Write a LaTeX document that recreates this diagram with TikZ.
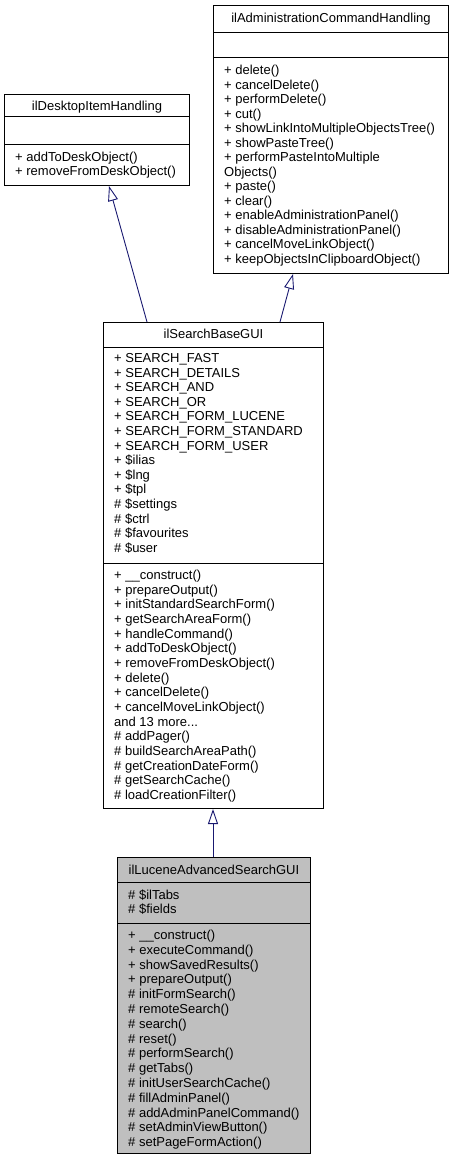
\documentclass[tikz,border=0pt]{standalone}
\usepackage{fontspec}
\setmainfont{Liberation Sans}
\usetikzlibrary{arrows.meta,calc}
\definecolor{edgeblue}{HTML}{191970}
\newcommand{\moremembers}{and 13 more...}

\begin{document}
\begin{tikzpicture}[x=1pt, y=-1pt, font=\fontsize{13}{14.6}\selectfont,
  classbox/.style={draw, line width=1pt, inner sep=0pt, anchor=north west},
  classname/.style={anchor=base, inner sep=0pt},
  member/.style={anchor=base west, inner sep=0pt},
  inherit/.style={draw=edgeblue, line width=0.9pt,
    {Triangle[open,length=15pt,width=10pt]}-}]

\useasboundingbox (0,0) rectangle (453,1160);

% ilAdministrationCommandHandling
\node[classbox, minimum width=235pt, minimum height=268pt] (ach) at (213,5) {};
\node[classname] (ach-name) at ($(ach.north)+(0,17.5)$) {ilAdministrationCommandHandling};
\draw[line width=1pt] ($(ach.north west)+(0,27)$) -- ($(ach.north east)+(0,27)$);
\draw[line width=1pt] ($(ach.north west)+(0,52)$) -- ($(ach.north east)+(0,52)$);
\foreach \txt [count=\i] in {+ delete(), + cancelDelete(), + performDelete(), + cut(),
    + showLinkIntoMultipleObjectsTree(), + showPasteTree(), + performPasteIntoMultiple,
    Objects(), + paste(), + clear(), + enableAdministrationPanel(),
    + disableAdministrationPanel(), + cancelMoveLinkObject(),
    + keepObjectsInClipboardObject()}
  \node[member] (ach-op\i) at ($(ach.north west)+(11,{55+14.5*\i})$) {\txt};

% ilDesktopItemHandling
\node[classbox, minimum width=185pt, minimum height=91pt] (dih) at (4,94) {};
\node[classname] (dih-name) at ($(dih.north)+(0,16.5)$) {ilDesktopItemHandling};
\draw[line width=1pt] ($(dih.north west)+(0,22)$) -- ($(dih.north east)+(0,22)$);
\draw[line width=1pt] ($(dih.north west)+(0,50)$) -- ($(dih.north east)+(0,50)$);
\foreach \txt [count=\i] in {+ addToDeskObject(), + removeFromDeskObject()}
  \node[member] (dih-op\i) at ($(dih.north west)+(11,{53.5+14*\i})$) {\txt};

% ilSearchBaseGUI
\node[classbox, minimum width=220pt, minimum height=486pt] (sbg) at (103,322) {};
\node[classname] (sbg-name) at ($(sbg.north)+(0,16.5)$) {ilSearchBaseGUI};
\draw[line width=1pt] ($(sbg.north west)+(0,25)$) -- ($(sbg.north east)+(0,25)$);
\draw[line width=1pt] ($(sbg.north west)+(0,241)$) -- ($(sbg.north east)+(0,241)$);
\foreach \txt [count=\i] in {+ SEARCH\_FAST, + SEARCH\_DETAILS, + SEARCH\_AND,
    + SEARCH\_OR, + SEARCH\_FORM\_LUCENE, + SEARCH\_FORM\_STANDARD,
    + SEARCH\_FORM\_USER, + \$ilias, + \$lng, + \$tpl, \# \$settings,
    \# \$ctrl, \# \$favourites, \# \$user}
  \node[member] (sbg-at\i) at ($(sbg.north west)+(11,{25.9+14.6*\i})$) {\txt};
\foreach \txt [count=\i] in {+ \_\_construct(), + prepareOutput(),
    + initStandardSearchForm(), + getSearchAreaForm(), + handleCommand(),
    + addToDeskObject(), + removeFromDeskObject(), + delete(), + cancelDelete(),
    + cancelMoveLinkObject(), \moremembers, \# addPager(),
    \# buildSearchAreaPath(), \# getCreationDateForm(), \# getSearchCache(),
    \# loadCreationFilter()}
  \node[member] (sbg-op\i) at ($(sbg.north west)+(11,{242.8+14.67*\i})$) {\txt};

% ilLuceneAdvancedSearchGUI
\node[classbox, fill=black!25, minimum width=193pt, minimum height=296pt] (lucene) at (117,857) {};
\node[classname] (lucene-name) at ($(lucene.north)+(0,17.5)$) {ilLuceneAdvancedSearchGUI};
\draw[line width=1pt] ($(lucene.north west)+(0,25)$) -- ($(lucene.north east)+(0,25)$);
\draw[line width=1pt] ($(lucene.north west)+(0,66)$) -- ($(lucene.north east)+(0,66)$);
\foreach \txt [count=\i] in {\# \$ilTabs, \# \$fields}
  \node[member] (lucene-at\i) at ($(lucene.north west)+(11,{28.5+14*\i})$) {\txt};
\foreach \txt [count=\i] in {+ \_\_construct(), + executeCommand(),
    + showSavedResults(), + prepareOutput(), \# initFormSearch(),
    \# remoteSearch(), \# search(), \# reset(), \# performSearch(),
    \# getTabs(), \# initUserSearchCache(), \# fillAdminPanel(),
    \# addAdminPanelCommand(), \# setAdminViewButton(), \# setPageFormAction()}
  \node[member] (lucene-op\i) at ($(lucene.north west)+(11,{67.7+14.8*\i})$) {\txt};

% inheritance
\coordinate (dih-tip) at ($(dih.south west)+(105,0)$);
\coordinate (ach-tip) at ($(ach.south west)+(80,0)$);
\coordinate (sbg-tip) at ($(sbg.south west)+(110,0)$);
\coordinate (sbg-in1) at ($(sbg.north west)+(44,0)$);
\coordinate (sbg-in2) at ($(sbg.north west)+(177,0)$);
\coordinate (lucene-in) at ($(lucene.north west)+(96,0)$);
\draw[inherit] (dih-tip) -- (sbg-in1);
\draw[inherit] (ach-tip) -- (sbg-in2);
\draw[inherit] (sbg-tip) -- (lucene-in);
\end{tikzpicture}
\end{document}
